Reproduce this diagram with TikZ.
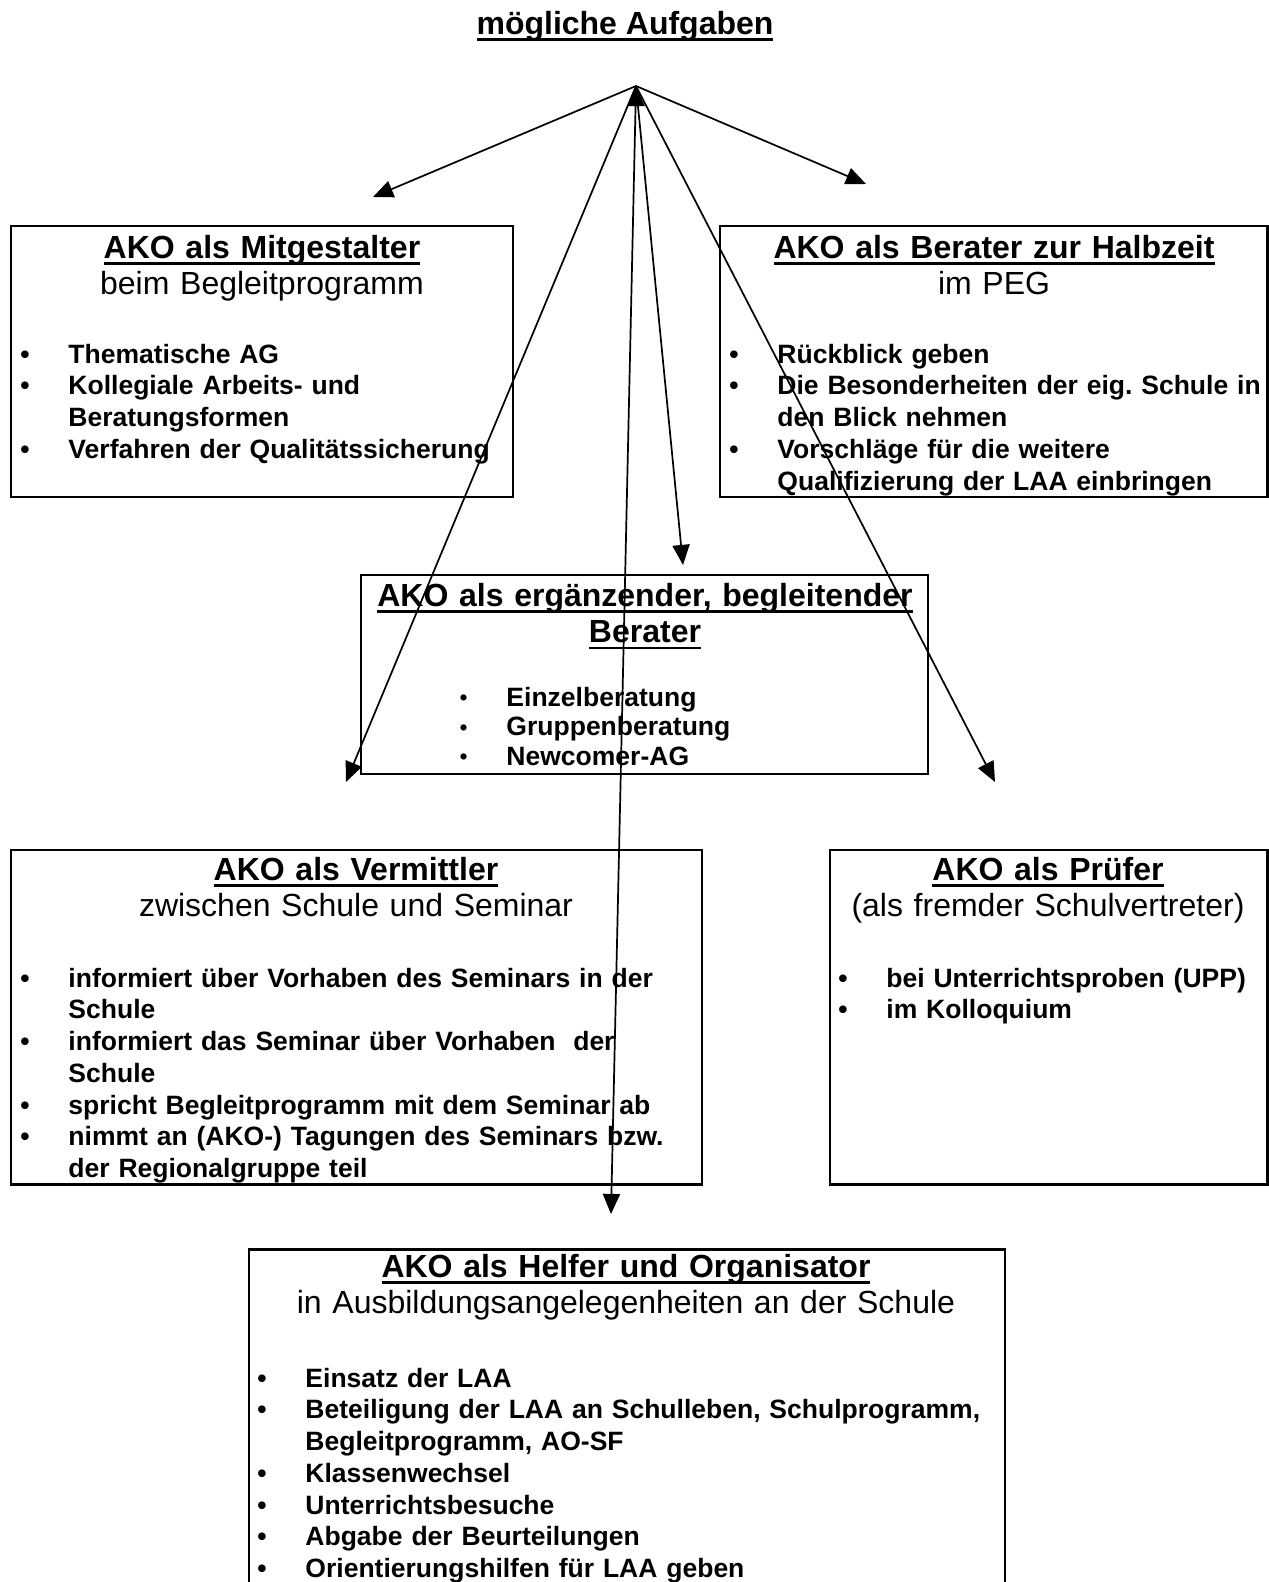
\documentclass[tikz,border=0pt]{standalone}
\usepackage{fontspec}
\setmainfont{Liberation Sans}
\usetikzlibrary{arrows.meta,fit,positioning}

\frenchspacing
\newcommand{\akoul}[1]{\leavevmode\setbox0=\hbox{#1}\rlap{\rule[-3.0pt]{\wd0}{1.1pt}}\box0}
\newcommand{\bul}{\leavevmode\llap{\textbullet\hspace{17pt}}}
\newcommand{\kbul}{\leavevmode\llap{\raisebox{0.4pt}{\fontsize{10}{10}\selectfont\mdseries\textbullet}\hspace{17pt}}}

\tikzset{
  akobox/.style={draw, line width=1.3pt, inner sep=0pt},
  head/.style={anchor=base, text width=340pt, align=center, inner sep=0pt, font=\fontsize{14}{16}\selectfont},
  items/.style={anchor=base west, text width=330pt, align=left, inner sep=0pt, font=\fontsize{11.6}{13.9}\selectfont\bfseries},
  kitems/.style={items, font=\fontsize{11.6}{13.1}\selectfont\bfseries},
  pfeil/.style={-{Triangle[length=8.8pt,width=7.5pt]}, line width=0.75pt}
}

\begin{document}
\begin{tikzpicture}[x=0.4375pt, y=-0.4375pt]
  \useasboundingbox (0,0) rectangle (1269,1582);
  \clip (0,0) rectangle (1269,1582);

  \node (titel) [anchor=base, inner sep=0pt, font=\fontsize{14}{16}\selectfont\bfseries] at (625,34) {\akoul{mögliche Aufgaben}};

  % boxes
  \node (mitbox) [fit={(11,226) (513,497)}, akobox] {};
  \node (berbox) [fit={(720,226) (1267,497)}, akobox] {};
  \node (ergbox) [fit={(361,575) (928,774)}, akobox] {};
  \node (verbox) [fit={(11,850) (702,1184)}, akobox] {};
  \node (prubox) [fit={(830,850) (1267,1184)}, akobox] {};
  \node (helbox) [fit={(249,1249) (1005,1640)}, akobox] {};

  % headings
  \node (mithead) [head] at (262,258) {{\bfseries\akoul{AKO als Mitgestalter}}\\beim Begleitprogramm};
  \node (berhead) [head] at (994,258) {{\bfseries\akoul{AKO als Berater zur Halbzeit}}\\im PEG};
  \node (erghead) [head] at (645,606) {\bfseries\akoul{AKO als ergänzender, begleitender}\\\akoul{Berater}};
  \node (verhead) [head] at (356,880) {{\bfseries\akoul{AKO als Vermittler}}\\zwischen Schule und Seminar};
  \node (pruhead) [head] at (1048,880) {{\bfseries\akoul{AKO als Prüfer}}\\(als fremder Schulvertreter)};
  \node (helhead) [head] at (626,1277) {{\bfseries\akoul{AKO als Helfer und Organisator}}\\in Ausbildungsangelegenheiten an der Schule};

  % lists
  \node (mitlist) [items] at (68,363) {\bul Thematische AG\\
    \bul Kollegiale Arbeits- und\\ Beratungsformen\\
    \bul Verfahren der Qualitätssicherung};
  \node (berlist) [items] at (777,363) {\bul Rückblick geben\\
    \bul Die Besonderheiten der eig. Schule in\\ den Blick nehmen\\
    \bul Vorschläge für die weitere\\ Qualifizierung der LAA einbringen};
  \node (erglist) [kitems] at (506,706) {\kbul Einzelberatung\\
    \kbul Gruppenberatung\\
    \kbul Newcomer-AG};
  \node (verlist) [items] at (68,987) {\bul informiert über Vorhaben des Seminars in der\\ Schule\\
    \bul informiert das Seminar über Vorhaben\ \ der\\ Schule\\
    \bul spricht Begleitprogramm mit dem Seminar ab\\
    \bul nimmt an (AKO-) Tagungen des Seminars bzw.\\ der Regionalgruppe teil};
  \node (prulist) [items] at (886,987) {\bul bei Unterrichtsproben (UPP)\\
    \bul im Kolloquium};
  \node (hellist) [items] at (305,1387) {\bul Einsatz der LAA\\
    \bul Beteiligung der LAA an Schulleben, Schulprogramm,\\ Begleitprogramm, AO-SF\\
    \bul Klassenwechsel\\
    \bul Unterrichtsbesuche\\
    \bul Abgabe der Beurteilungen\\
    \bul Orientierungshilfen für LAA geben};

  % arrows
  \coordinate (spitze) at (636,86);
  \coordinate (zmit) at (373,197);
  \coordinate (zber) at (866,184);
  \coordinate (zerg) at (683,565);
  \coordinate (zver) at (346,782);
  \coordinate (zpru) at (995,782);
  \coordinate (zhel) at (611,1214);
  \draw [pfeil] (spitze) edge (zmit) edge (zber) edge (zerg)
    edge (zver) edge (zpru) edge (zhel);
\end{tikzpicture}
\end{document}
